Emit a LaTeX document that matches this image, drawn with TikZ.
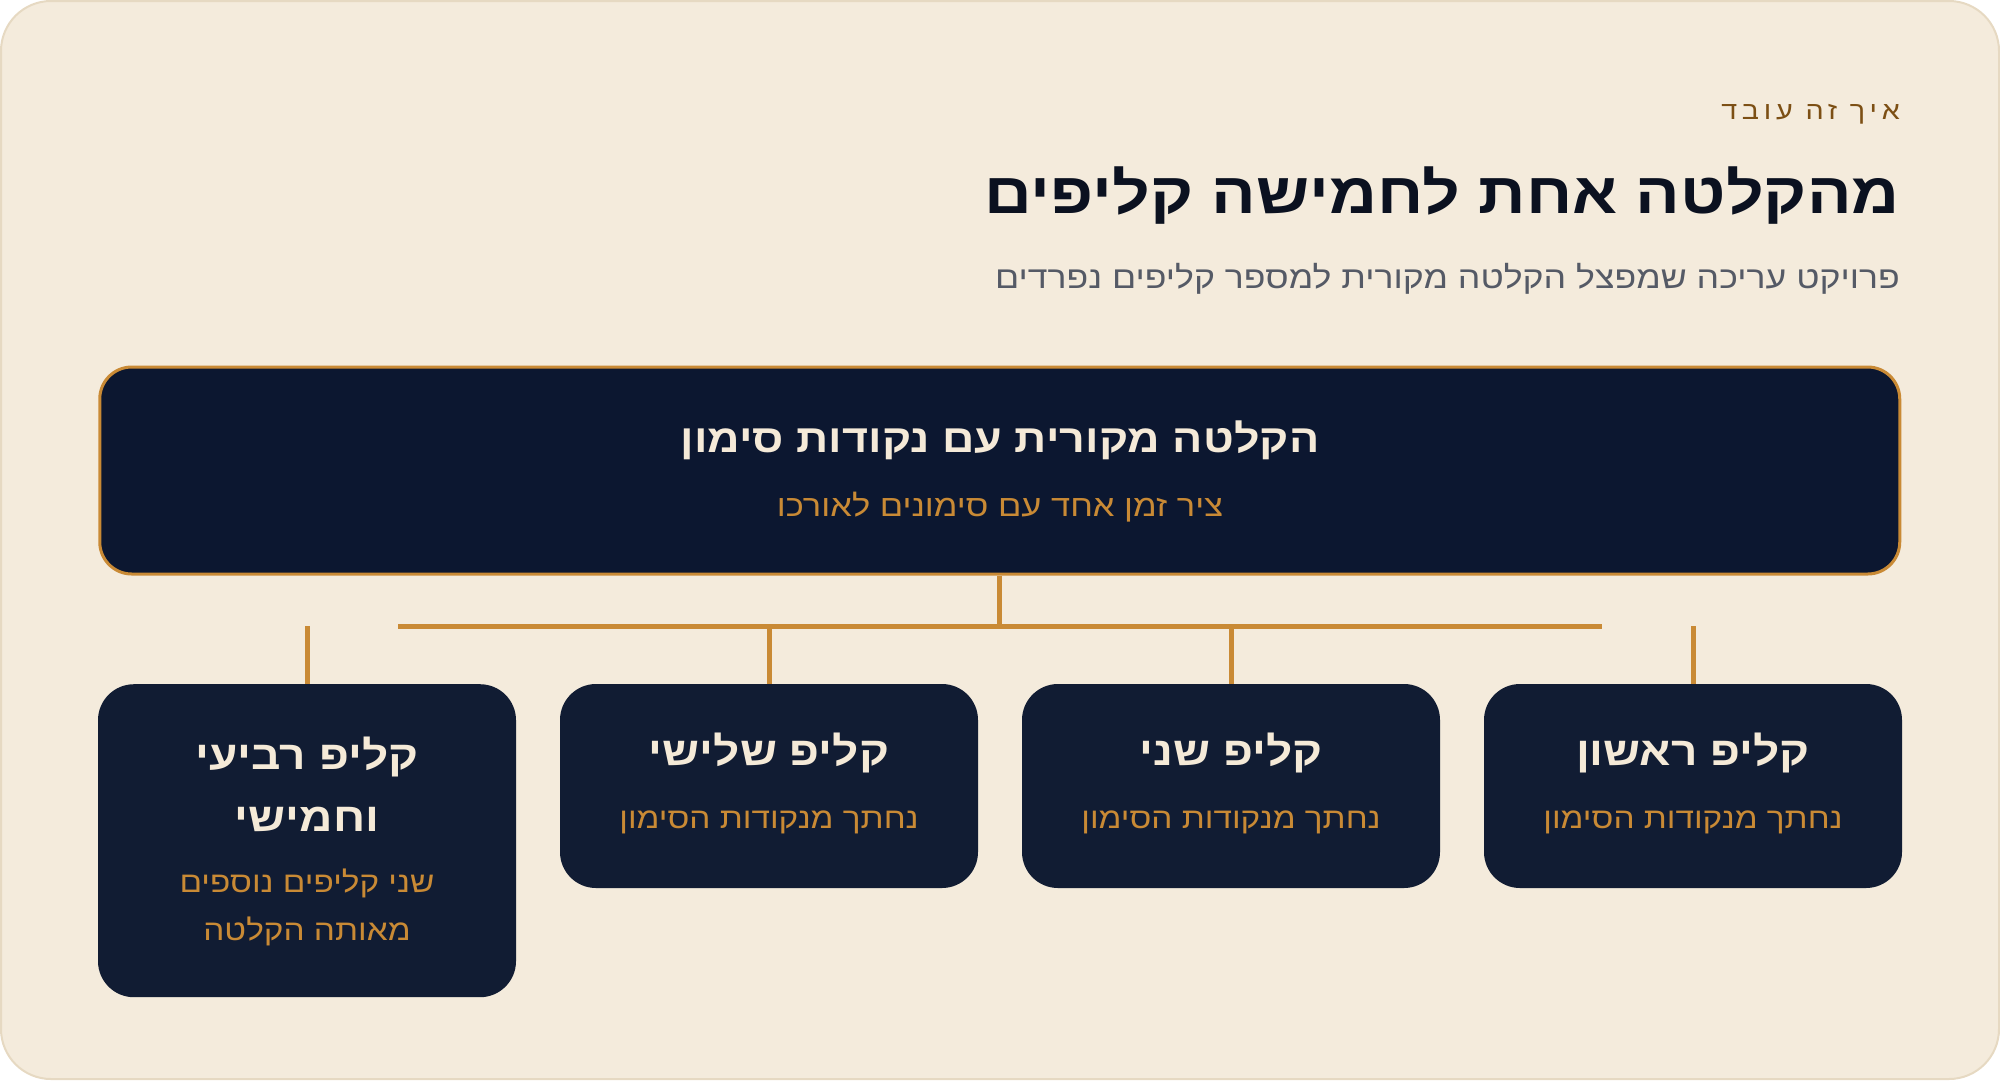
\documentclass[tikz,border=0pt]{standalone}
\usepackage{fontspec}
\setmainfont[Script=Hebrew,FakeStretch=1.15]{Liberation Sans}
\newfontfamily\spacedfont[Script=Hebrew,FakeStretch=1.15,LetterSpace=19]{Liberation Sans}
\TeXXeTstate=1
\newcommand\hebtxt[1]{\beginR #1\endR}
\definecolor{bgcol}{HTML}{F4EBDC}
\definecolor{bgline}{HTML}{E6D9C2}
\definecolor{goldcol}{HTML}{C98A35}
\definecolor{browncol}{HTML}{7C4F14}
\definecolor{navytop}{HTML}{0C1730}
\definecolor{navybox}{HTML}{111C33}
\definecolor{inkcol}{HTML}{0B1120}
\definecolor{graycol}{HTML}{555A66}
\definecolor{creamcol}{HTML}{F5EAD8}
\begin{document}
\begin{tikzpicture}[x=1pt,y=-1pt,
  srcbox/.style={draw=goldcol,line width=3pt,fill=navytop,rounded corners=32pt,minimum width=1800pt,minimum height=207pt,inner sep=0pt},
  clipbox/.style={fill=navybox,rounded corners=36pt,minimum width=418pt,minimum height=204pt,inner sep=0pt},
  tallbox/.style={clipbox,minimum height=313pt},
  conn/.style={draw=goldcol,line width=5pt},
  headtxt/.style={text=creamcol,font=\fontsize{40}{46}\selectfont\bfseries,inner sep=0pt,align=center},
  subtxt/.style={text=goldcol,font=\fontsize{29}{48}\selectfont,inner sep=0pt,align=center}
]
\useasboundingbox (0,0) rectangle (2000,1080);
\draw[fill=bgcol,draw=bgline,line width=2pt,rounded corners=50pt] (1,1) rectangle (1999,1079);

\node[anchor=east,text=browncol,font=\spacedfont\fontsize{25}{28}\selectfont,inner sep=0pt] (kicker) at (1900,114) {\hebtxt{איך זה עובד}};
\node[anchor=east,text=inkcol,font=\fontsize{57.5}{64}\selectfont\bfseries,inner sep=0pt] (title) at (1900,196) {\hebtxt{מהקלטה אחת לחמישה קליפים}};
\node[anchor=east,text=graycol,font=\fontsize{31}{36}\selectfont,inner sep=0pt] (subtitle) at (1900,279) {\hebtxt{פרויקט עריכה שמפצל הקלטה מקורית למספר קליפים נפרדים}};

\node[srcbox] (src) at (999.75,470.5) {};
\node[headtxt,font=\fontsize{39}{46}\selectfont\bfseries] (srct) at (1000,440) {\hebtxt{הקלטה מקורית עם נקודות סימון}};
\node[subtxt,font=\fontsize{30}{40}\selectfont] (srcs) at (1000,507) {\hebtxt{ציר זמן אחד עם סימונים לאורכו}};

\node[clipbox] (c1) at (1693,786) {};
\node[clipbox] (c2) at (1231,786) {};
\node[clipbox] (c3) at (769,786) {};
\node[tallbox,anchor=north] (c4) at (307,684) {};

\node[headtxt] (c1t) at (1693,753) {\hebtxt{קליפ ראשון}};
\node[subtxt] (c1s) at (1693,822) {\hebtxt{נחתך מנקודות הסימון}};
\node[headtxt] (c2t) at (1231,753) {\hebtxt{קליפ שני}};
\node[subtxt] (c2s) at (1231,822) {\hebtxt{נחתך מנקודות הסימון}};
\node[headtxt] (c3t) at (769,753) {\hebtxt{קליפ שלישי}};
\node[subtxt] (c3s) at (769,822) {\hebtxt{נחתך מנקודות הסימון}};
\node[headtxt,font=\fontsize{40}{62}\selectfont\bfseries] (c4t) at (307,784) {\hebtxt{קליפ רביעי}\\\hebtxt{וחמישי}};
\node[subtxt] (c4s) at (307,907) {\hebtxt{שני קליפים נוספים}\\\hebtxt{מאותה הקלטה}};

\coordinate (busL) at (398,626);
\coordinate (busR) at (1602,626);
\draw[conn] (src.south) -- (src.south |- busL);
\draw[conn] (busL) -- (busR);
\draw[conn] (c2.north |- busL) -- (c2.north);
\draw[conn] (c3.north |- busL) -- (c3.north);
\draw[conn] (c1.north |- busL) -- (c1.north);
\draw[conn] (c4.north |- busL) -- (c4.north);
\end{tikzpicture}
\end{document}
